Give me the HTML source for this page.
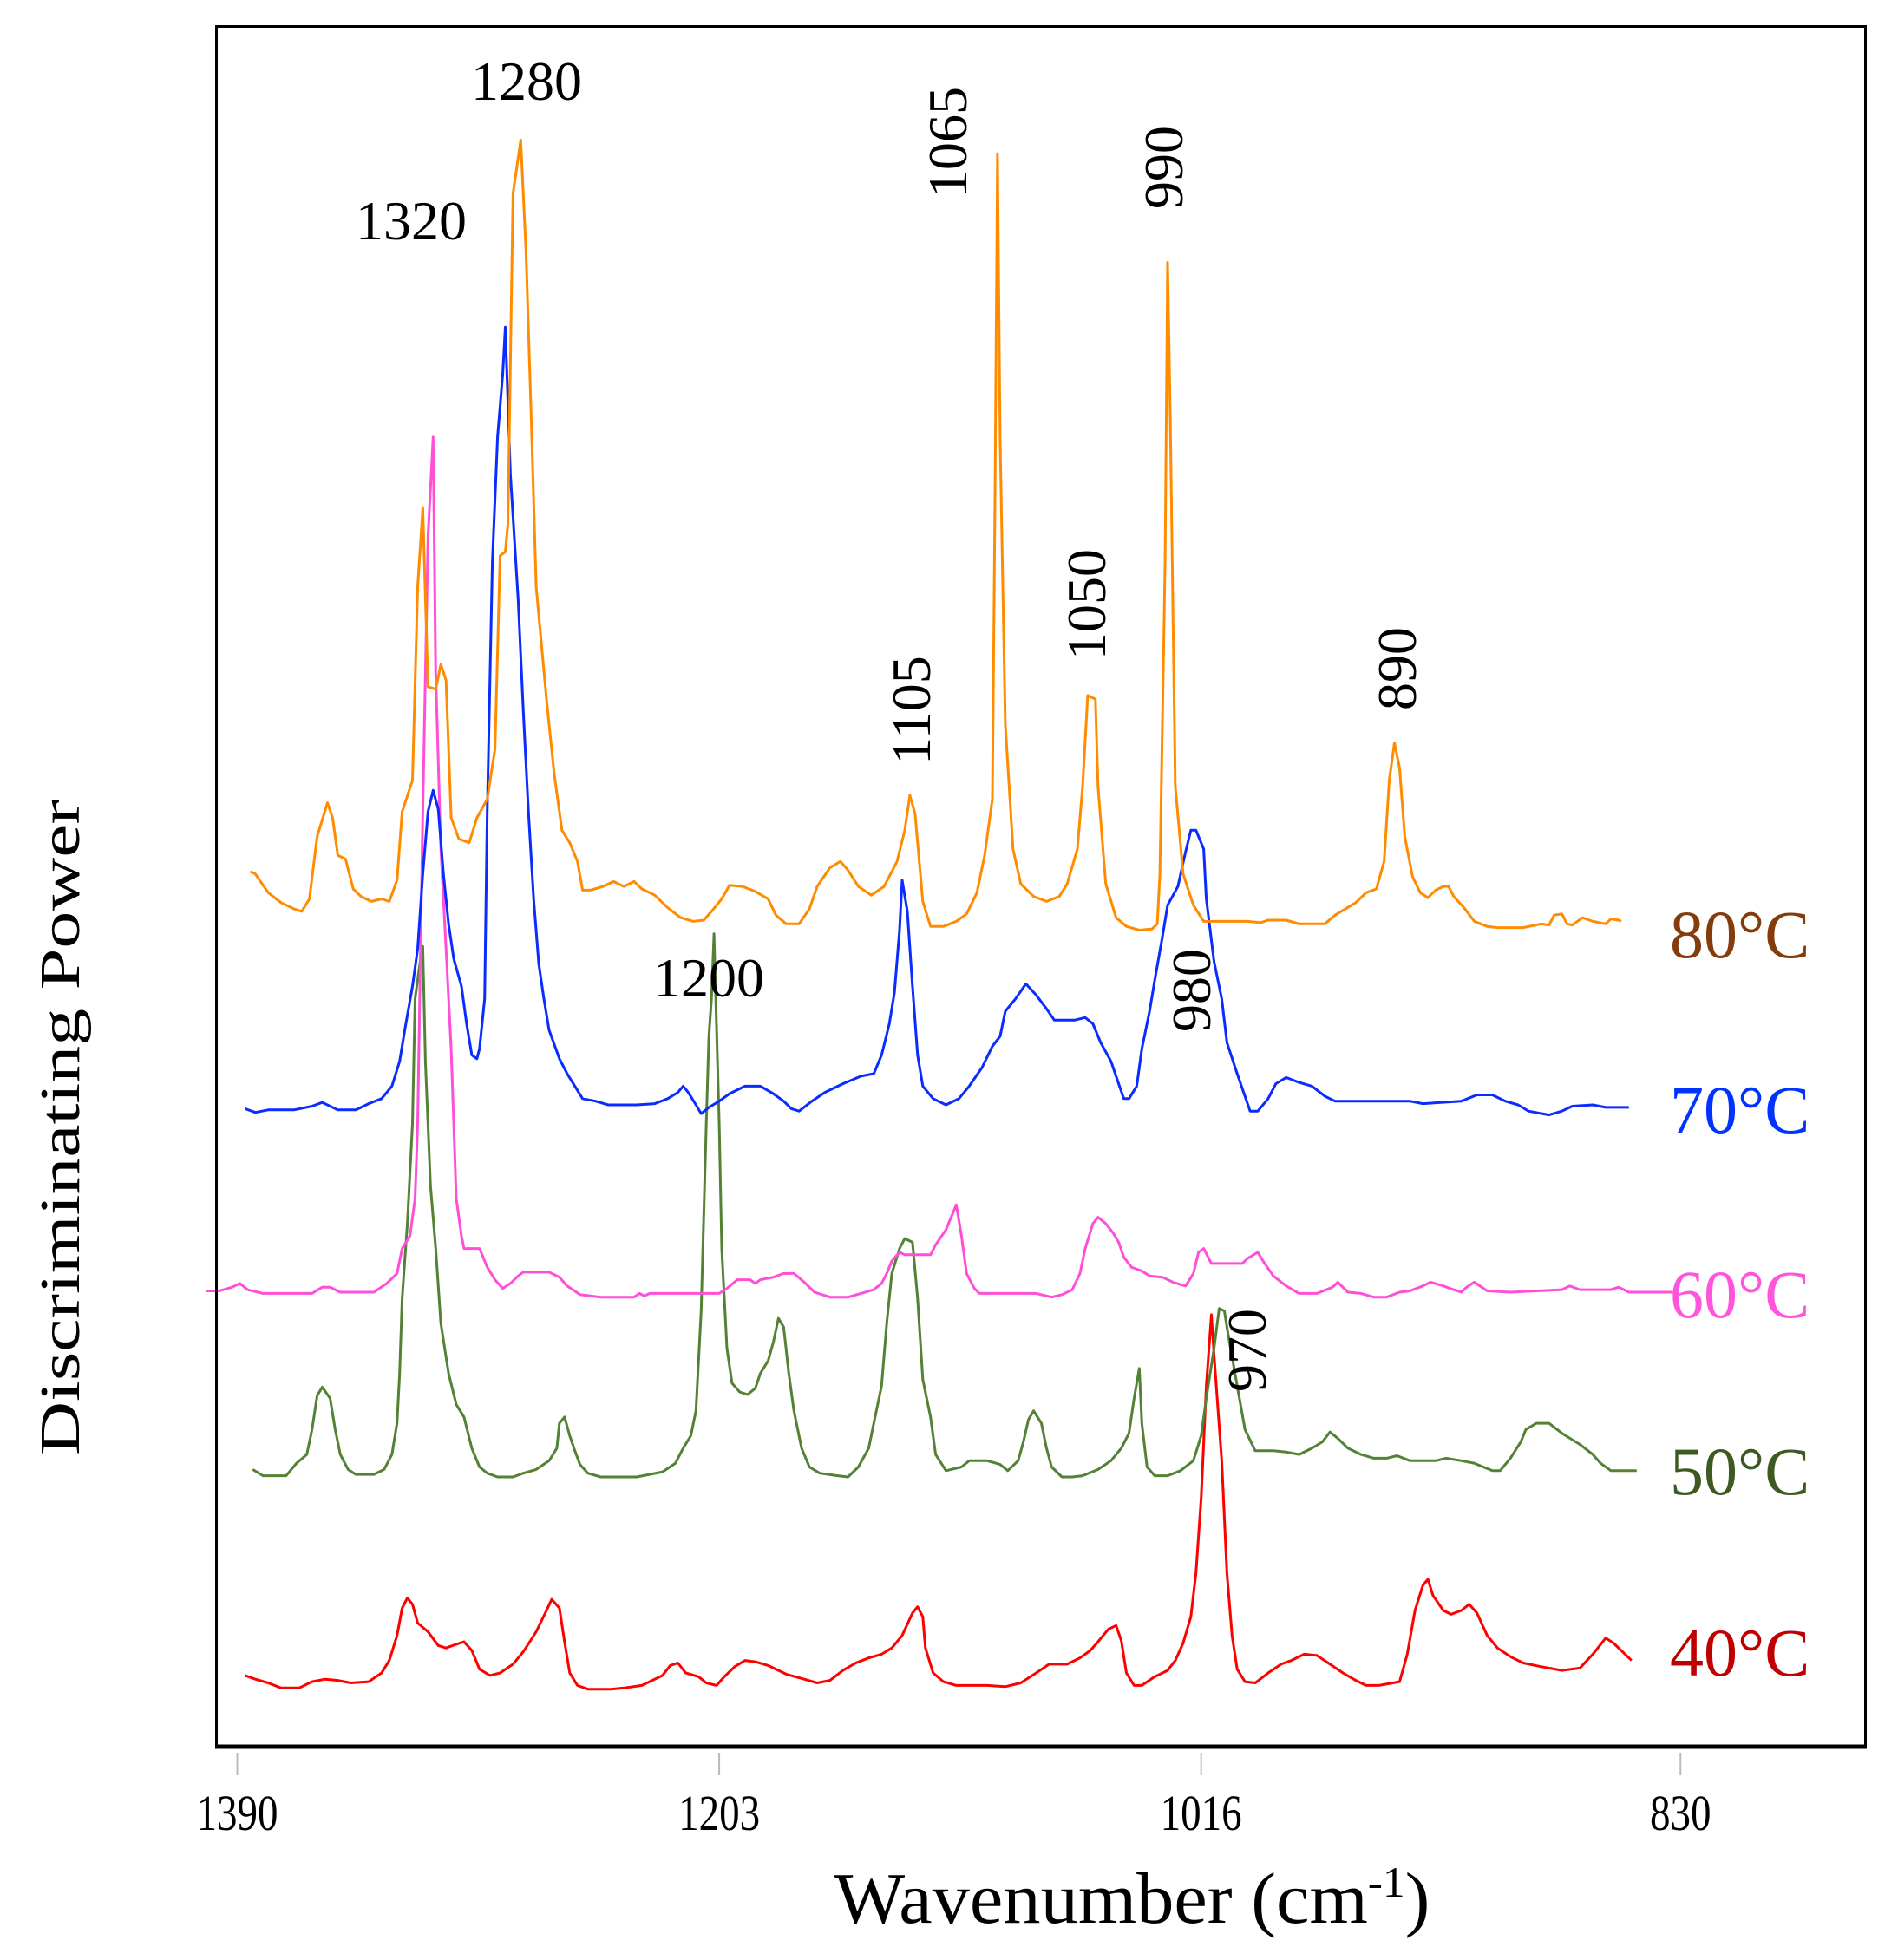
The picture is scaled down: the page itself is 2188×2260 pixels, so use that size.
<!DOCTYPE html>
<html><head><meta charset="utf-8"><title>Discriminating Power spectra</title>
<style>html,body{margin:0;padding:0;background:#fff}svg{display:block}</style></head>
<body>
<svg id="chart" width="2188" height="2260" viewBox="0 0 2188 2260" xmlns="http://www.w3.org/2000/svg" font-family="'Liberation Serif', serif">
<rect x="0" y="0" width="2188" height="2260" fill="#fff"/>
<g id="series"></g>
<rect x="249.5" y="30.5" width="1901" height="1983" fill="none" stroke="#000" stroke-width="3"/>
<line x1="248" y1="2014" x2="2152" y2="2014" stroke="#000" stroke-width="5"/>
<g id="ticks"></g>
<text x="1305" y="2217" font-size="84" text-anchor="middle" textLength="687" lengthAdjust="spacingAndGlyphs">Wavenumber (cm<tspan dy="-30" font-size="50">-1</tspan><tspan dy="30">)</tspan></text>
<text transform="translate(91,1300) rotate(-90)" font-size="66" text-anchor="middle" textLength="756" lengthAdjust="spacingAndGlyphs">Discriminating Power</text>
<g font-size="64">
<text x="607" y="115" text-anchor="middle">1280</text>
<text x="474" y="276" text-anchor="middle">1320</text>
<text x="817" y="1149" text-anchor="middle">1200</text>
<text transform="translate(1114,164) rotate(-90)" text-anchor="middle">1065</text>
<text transform="translate(1363,193) rotate(-90)" text-anchor="middle">990</text>
<text transform="translate(1274,697) rotate(-90)" text-anchor="middle">1050</text>
<text transform="translate(1072,819) rotate(-90)" text-anchor="middle">1105</text>
<text transform="translate(1632,771) rotate(-90)" text-anchor="middle">890</text>
<text transform="translate(1395,1142) rotate(-90)" text-anchor="middle">980</text>
<text transform="translate(1459,1557) rotate(-90)" text-anchor="middle">970</text>
</g>
<g font-size="78">
<text x="1925" y="1104" fill="#843c0c">80°C</text>
<text x="1925" y="1306" fill="#0033ff">70°C</text>
<text x="1925" y="1519" fill="#ff55dd">60°C</text>
<text x="1925" y="1723" fill="#3d5a23">50°C</text>
<text x="1925" y="1932" fill="#c00000">40°C</text>
</g>
</svg>
<script>
const tickValues = [1390, 1203, 1016, 830];
const tickLabels = ["1390", "1203", "1016", "830"];
const w80 = [1385,1383,1378,1373,1368,1365,1362,1359,1355,1353,1351,1348,1345,1342,1338,1334,1331,1328,1326,1322,1320,1318,1316,1313,1311,1309,1307,1304,1300,1297,1293,1290,1288,1286,1285,1283,1280,1278,1276,1274,1270,1267,1264,1261,1258,1256,1253,1248,1244,1240,1236,1233,1228,1223,1218,1213,1209,1206,1202,1199,1194,1189,1184,1181,1177,1172,1168,1165,1160,1156,1153,1149,1144,1139,1134,1131,1129,1127,1124,1121,1116,1111,1107,1103,1100,1097,1096,1095,1094,1092,1089,1086,1081,1076,1071,1068,1064,1062,1060,1057,1056,1053,1049,1045,1040,1035,1033,1032,1030,1029,1028,1026,1023,1019,1015,1010,1002,998,993,990,983,978,968,964,956,952,948,945,943,941,939,937,934,931,928,925,922,920,918,914,910,905,901,891,884,881,879,876,874,872,868,864,859,857,854,853];
const v80 = [700,698,683,675,670,668,678,728,755,743,713,710,686,680,676,678,676,693,748,773,928,991,848,846,866,853,743,726,723,743,758,798,953,956,978,1243,1286,1198,1068,928,838,778,733,723,708,685,685,688,692,688,692,686,681,671,663,660,661,668,678,689,688,684,678,665,658,658,670,688,703,708,701,688,681,688,708,733,761,746,676,656,656,660,666,683,713,758,998,1275,1048,818,718,690,680,676,680,690,718,768,841,838,768,690,663,656,653,654,658,698,948,1188,1068,768,698,673,660,660,660,660,659,661,661,658,658,665,675,683,686,708,773,803,783,728,696,683,679,685,688,688,680,671,660,656,655,655,658,657,665,666,658,657,663,660,658,662,661,660];
const w70 = [1387,1383,1378,1368,1361,1357,1354,1351,1344,1339,1334,1330,1327,1325,1322,1320,1318,1316,1314,1312,1310,1308,1306,1303,1301,1299,1297,1296,1294,1293,1291,1289,1287,1286,1284,1281,1279,1277,1275,1273,1271,1269,1265,1262,1259,1256,1251,1246,1235,1228,1223,1219,1217,1215,1212,1210,1207,1203,1199,1193,1187,1182,1178,1175,1172,1167,1162,1155,1148,1143,1140,1137,1135,1133,1132,1130,1128,1126,1124,1120,1115,1110,1106,1101,1097,1094,1092,1088,1084,1080,1076,1073,1065,1061,1058,1055,1051,1048,1046,1044,1041,1039,1036,1034,1031,1029,1025,1022,1020,1018,1015,1014,1011,1008,1006,1002,999,997,994,990,987,983,978,973,968,964,935,930,915,909,903,898,893,889,881,876,872,864,859,850];
const v70 = [510,507,509,509,512,515,512,509,509,514,518,528,548,573,608,638,698,748,765,750,698,658,630,608,578,553,550,558,598,748,948,1048,1098,1136,1018,918,828,748,678,626,598,573,550,538,528,518,516,513,513,514,518,523,528,523,513,506,511,516,522,528,528,522,516,510,508,516,523,530,536,538,553,578,603,653,693,668,608,553,528,518,513,518,528,543,560,568,588,598,610,601,590,581,581,583,578,563,548,530,518,518,528,558,588,613,648,673,688,716,733,733,718,678,628,598,563,538,520,508,508,518,530,535,531,528,520,516,516,514,516,521,521,516,513,508,505,508,512,513,511,511];
const w60 = [1402,1397,1392,1389,1386,1380,1361,1357,1354,1350,1344,1337,1332,1328,1326,1323,1321,1320,1318,1316,1314,1313,1311,1309,1307,1305,1303,1302,1296,1293,1290,1287,1284,1281,1279,1269,1265,1262,1257,1249,1236,1234,1232,1230,1203,1200,1196,1191,1189,1187,1182,1178,1174,1170,1166,1160,1153,1148,1143,1140,1138,1136,1133,1131,1121,1119,1115,1111,1109,1107,1104,1102,1080,1074,1070,1066,1063,1061,1058,1056,1053,1050,1048,1046,1043,1039,1036,1031,1027,1022,1019,1017,1015,1012,1000,998,994,992,988,983,978,971,965,963,959,954,949,944,939,935,930,927,922,918,915,913,910,905,896,876,873,869,857,854,850,833];
const v60 = [364,364,367,370,365,362,362,367,367,363,363,363,370,378,398,408,438,498,748,968,1048,858,718,638,558,438,408,398,398,383,373,366,370,376,379,379,375,368,361,359,359,362,360,362,362,366,373,373,370,373,375,378,378,371,363,359,359,362,365,370,378,388,395,393,393,401,413,433,408,378,366,362,362,359,361,365,378,398,418,423,418,410,403,391,383,380,376,375,371,368,378,395,398,386,386,390,395,388,376,368,362,362,367,371,363,362,359,359,363,364,368,371,368,365,363,367,371,364,363,365,368,365,365,367,363,363];
const w50 = [1384,1380,1371,1367,1363,1361,1359,1357,1354,1352,1350,1347,1344,1337,1333,1330,1328,1327,1326,1324,1322,1321,1319,1318,1317,1315,1313,1311,1308,1305,1302,1299,1296,1293,1289,1283,1279,1274,1269,1266,1265,1263,1261,1259,1257,1254,1249,1235,1230,1225,1220,1217,1214,1212,1210,1208,1207,1206,1205,1203,1202,1200,1198,1195,1192,1189,1187,1184,1182,1180,1178,1176,1174,1171,1168,1164,1157,1153,1149,1145,1143,1140,1138,1136,1133,1131,1128,1126,1124,1121,1119,1115,1109,1106,1099,1094,1091,1087,1085,1083,1081,1078,1076,1074,1070,1066,1062,1056,1051,1047,1044,1042,1040,1039,1037,1034,1029,1024,1019,1016,1014,1011,1009,1007,1005,1002,999,995,988,983,978,973,969,966,963,959,954,949,944,940,935,925,921,915,910,903,900,896,892,890,886,881,876,869,864,861,857,847];
const v50 = [221,216,216,226,233,253,280,287,278,253,233,221,217,217,221,233,258,298,358,418,498,598,628,640,548,448,398,338,298,273,263,238,223,218,215,215,218,221,228,238,258,263,248,236,225,218,215,215,217,219,226,238,248,268,348,498,568,598,650,498,398,318,290,283,281,286,298,308,323,342,335,298,268,238,223,218,216,215,223,238,258,288,338,378,398,406,403,358,293,263,233,220,223,228,228,225,220,228,243,261,268,258,238,223,215,215,216,221,228,238,250,278,302,258,223,216,216,220,228,248,278,318,350,348,323,288,253,236,236,235,233,238,243,251,246,238,233,230,230,232,228,228,230,228,226,220,220,230,243,253,258,258,250,241,233,226,220,220];
const w40 = [1387,1383,1378,1373,1366,1361,1356,1351,1346,1339,1334,1331,1328,1326,1324,1322,1320,1316,1312,1309,1305,1302,1299,1296,1292,1288,1283,1279,1274,1270,1268,1265,1263,1261,1258,1254,1245,1240,1233,1225,1222,1219,1216,1211,1208,1204,1201,1197,1193,1189,1184,1177,1170,1165,1160,1155,1150,1145,1140,1136,1132,1128,1126,1124,1123,1120,1116,1111,1099,1092,1086,1080,1075,1068,1063,1059,1056,1052,1049,1047,1045,1042,1039,1034,1029,1026,1023,1020,1018,1016,1014,1012,1011,1008,1006,1004,1002,999,995,990,985,981,976,971,966,961,956,952,947,939,936,933,930,928,926,922,919,915,912,909,905,901,896,891,884,876,869,864,859,856,852,849];
const v40 = [56,53,50,46,46,51,53,52,50,51,58,68,88,110,118,113,98,91,80,78,81,83,76,61,56,58,65,75,91,108,117,110,83,58,48,45,45,46,48,56,64,66,58,55,50,48,55,63,68,67,64,57,53,50,52,60,66,70,73,78,88,106,111,103,78,58,51,48,48,47,50,58,65,65,70,76,83,93,96,84,58,48,48,55,60,68,82,103,138,198,288,345,313,228,138,88,61,51,50,58,65,68,73,72,65,58,52,48,48,51,73,108,128,133,120,108,105,108,113,106,88,78,71,66,63,60,62,73,86,82,74,68];

const X0 = 273.5, PXW = 2.971, Y0 = 2012.5, PXV = 1.4395;
function xScale(w){ return X0 + (1390 - w) * PXW; }
function yScale(v){ return Y0 - v * PXV; }
const NS = "http://www.w3.org/2000/svg";

const ticks = document.getElementById('ticks');
tickValues.forEach((t, i) => {
  const x = xScale(t);
  const ln = document.createElementNS(NS, 'line');
  
  
  ln.setAttribute('x1', x); ln.setAttribute('x2', x);
  ln.setAttribute('y1', 2021); ln.setAttribute('y2', 2047);
  ln.setAttribute('stroke', '#bbb'); ln.setAttribute('stroke-width', 2);
  ticks.appendChild(ln);
  const tx = document.createElementNS(NS, 'text');
  
  
  tx.setAttribute('x', x); tx.setAttribute('y', 2110);
  tx.setAttribute('text-anchor', 'middle');
  tx.setAttribute('font-size', 58);
  tx.setAttribute('textLength', tickLabels[i].length * 23.5);
  tx.setAttribute('lengthAdjust', 'spacingAndGlyphs');
  tx.textContent = tickLabels[i];
  ticks.appendChild(tx);
});

const seriesG = document.getElementById('series');
function drawSeries(ws, vs, color, name){
  let d = '';
  for (let i = 0; i < ws.length; i++) {
    d += (i ? 'L' : 'M') + xScale(ws[i]).toFixed(1) + ',' + yScale(vs[i]).toFixed(1);
  }
  const p = document.createElementNS(NS, 'path');
  
  
  p.setAttribute('d', d);
  p.setAttribute('fill', 'none');
  p.setAttribute('stroke', color);
  p.setAttribute('stroke-width', 3);
  p.setAttribute('stroke-linejoin', 'round');
  seriesG.appendChild(p);
}
drawSeries(w40, v40, '#ff0000', 'series-40c');
drawSeries(w50, v50, '#548235', 'series-50c');
drawSeries(w60, v60, '#ff4fd8', 'series-60c');
drawSeries(w70, v70, '#0a2cff', 'series-70c');
drawSeries(w80, v80, '#ff8c00', 'series-80c');
</script>
</body></html>
